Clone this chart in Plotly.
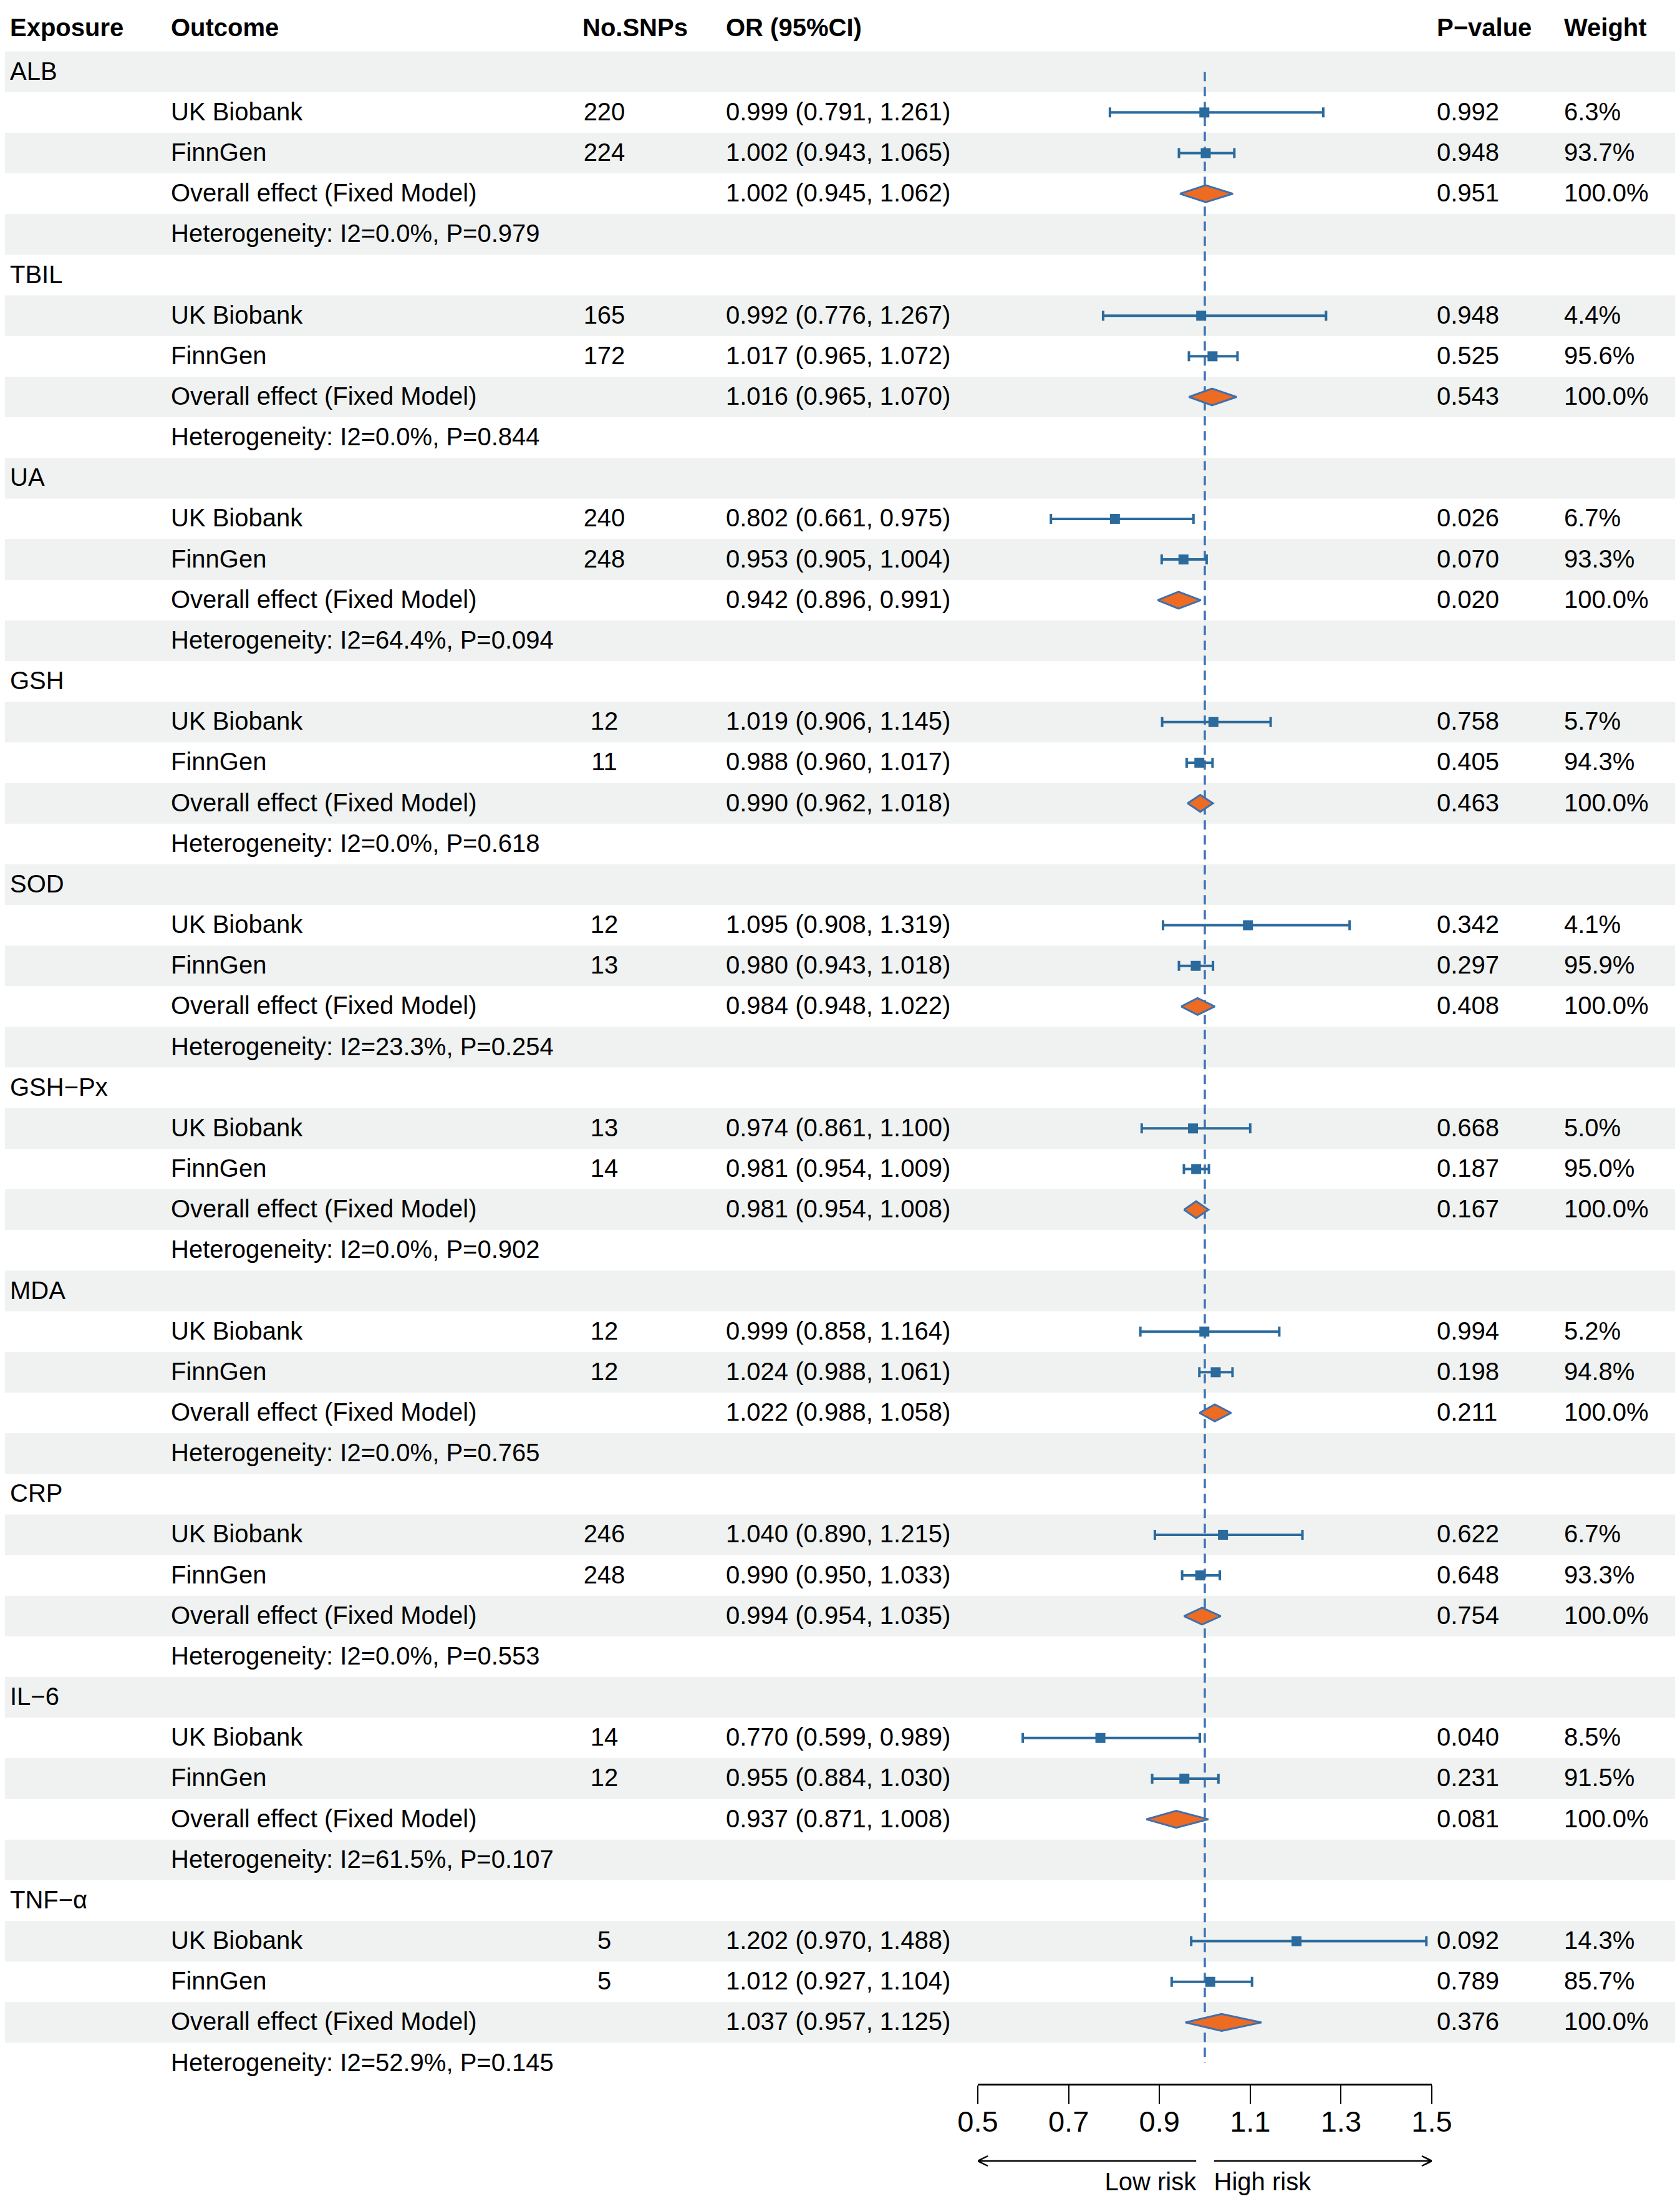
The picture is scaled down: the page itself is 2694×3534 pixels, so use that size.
import plotly.graph_objects as go

# Forest plot data
EXPOSURES = ['ALB', 'TBIL', 'UA', 'GSH', 'SOD', 'GSH−Px', 'MDA', 'CRP', 'IL−6', 'TNF−α']

# UK Biobank
UKB_SNPS = [220, 165, 240, 12, 12, 13, 12, 246, 14, 5]
UKB_OR = [0.999, 0.992, 0.802, 1.019, 1.095, 0.974, 0.999, 1.040, 0.770, 1.202]
UKB_LO = [0.791, 0.776, 0.661, 0.906, 0.908, 0.861, 0.858, 0.890, 0.599, 0.970]
UKB_HI = [1.261, 1.267, 0.975, 1.145, 1.319, 1.100, 1.164, 1.215, 0.989, 1.488]
UKB_P = [0.992, 0.948, 0.026, 0.758, 0.342, 0.668, 0.994, 0.622, 0.040, 0.092]
UKB_W = [6.3, 4.4, 6.7, 5.7, 4.1, 5.0, 5.2, 6.7, 8.5, 14.3]

# FinnGen
FIN_SNPS = [224, 172, 248, 11, 13, 14, 12, 248, 12, 5]
FIN_OR = [1.002, 1.017, 0.953, 0.988, 0.980, 0.981, 1.024, 0.990, 0.955, 1.012]
FIN_LO = [0.943, 0.965, 0.905, 0.960, 0.943, 0.954, 0.988, 0.950, 0.884, 0.927]
FIN_HI = [1.065, 1.072, 1.004, 1.017, 1.018, 1.009, 1.061, 1.033, 1.030, 1.104]
FIN_P = [0.948, 0.525, 0.070, 0.405, 0.297, 0.187, 0.198, 0.648, 0.231, 0.789]
FIN_W = [93.7, 95.6, 93.3, 94.3, 95.9, 95.0, 94.8, 93.3, 91.5, 85.7]

# Overall effect (fixed model)
OV_OR = [1.002, 1.016, 0.942, 0.990, 0.984, 0.981, 1.022, 0.994, 0.937, 1.037]
OV_LO = [0.945, 0.965, 0.896, 0.962, 0.948, 0.954, 0.988, 0.954, 0.871, 0.957]
OV_HI = [1.062, 1.070, 0.991, 1.018, 1.022, 1.008, 1.058, 1.035, 1.008, 1.125]
OV_P = [0.951, 0.543, 0.020, 0.463, 0.408, 0.167, 0.211, 0.754, 0.081, 0.376]

# Heterogeneity
HET_I2 = [0.0, 0.0, 64.4, 0.0, 23.3, 0.0, 0.0, 0.0, 61.5, 52.9]
HET_P = [0.979, 0.844, 0.094, 0.618, 0.254, 0.902, 0.765, 0.553, 0.107, 0.145]

AXIS_TICKS = [0.5, 0.7, 0.9, 1.1, 1.3, 1.5]

# Layout constants; positions below are page pixels, the page body has an 8px margin
PAGE_OFF = 8
W, H = 2694 - 2 * PAGE_OFF, 3534 - 2 * PAGE_OFF
ROW0_Y, ROW_H = 115.2, 65.16
TEXT_DY = 2.5 / ROW_H  # text sits a touch below the band centre
FONT = 'Liberation Sans, Arial, sans-serif'
FS = 40
BLUE = '#2B6A9C'
REF_BLUE = '#3D75B5'
ORANGE = '#EE6B22'
BAND = '#EFF2F1'

N_ROWS = 5 * len(EXPOSURES)


def row_of(page_y):
    return (page_y - ROW0_Y) / ROW_H


def fx(page_x):
    return page_x - PAGE_OFF


HEADER_ROW = row_of(45)

fig = go.Figure()

# alternating shaded rows
for r in range(0, N_ROWS, 2):
    fig.add_shape(type='rect', xref='paper', yref='y', x0=fx(3) / W, x1=fx(2688) / W,
                  y0=r - 0.5, y1=r + 0.5, fillcolor=BAND, line_width=0, layer='below')

# reference line at OR = 1
fig.add_shape(type='line', xref='x', yref='y', x0=1, x1=1, y0=0, y1=N_ROWS - 1,
              line=dict(color=REF_BLUE, width=3.5, dash='15px,9px'), layer='below')

# study estimates with CIs
est_x, est_y, err_p, err_m = [], [], [], []
for i in range(len(EXPOSURES)):
    base = 5 * i
    for k, (o, lo, hi) in enumerate([(UKB_OR[i], UKB_LO[i], UKB_HI[i]),
                                     (FIN_OR[i], FIN_LO[i], FIN_HI[i])]):
        est_x.append(o)
        est_y.append(base + 1 + k)
        err_p.append(hi - o)
        err_m.append(o - lo)

fig.add_trace(go.Scatter(
    x=est_x, y=est_y, mode='markers',
    marker=dict(symbol='square', size=16, color=BLUE),
    error_x=dict(type='data', symmetric=False, array=err_p, arrayminus=err_m,
                 color=BLUE, thickness=4, width=8),
    hoverinfo='skip', showlegend=False))

# pooled diamonds
DH = 13.5 / ROW_H
for i in range(len(EXPOSURES)):
    r = 5 * i + 3
    fig.add_trace(go.Scatter(
        x=[OV_LO[i], OV_OR[i], OV_HI[i], OV_OR[i], OV_LO[i]],
        y=[r, r - DH, r, r + DH, r],
        mode='lines', fill='toself', fillcolor=ORANGE,
        line=dict(color='#3E70AE', width=3),
        hoverinfo='skip', showlegend=False))

# risk arrows under the axis
AR_Y = row_of(3465)
HX, HY = 0.022, 8 / ROW_H
fig.add_trace(go.Scatter(
    x=[0.5 + HX, 0.5, 0.5 + HX, None, 0.5, 0.981, None,
       1.0206, 1.5, None, 1.5 - HX, 1.5, 1.5 - HX],
    y=[AR_Y - HY, AR_Y, AR_Y + HY, None, AR_Y, AR_Y, None,
       AR_Y, AR_Y, None, AR_Y - HY, AR_Y, AR_Y + HY],
    mode='lines', line=dict(color='black', width=2.5),
    hoverinfo='skip', showlegend=False))
LBL_Y = row_of(3502)
fig.add_trace(go.Scatter(
    x=[0.981, 1.020], y=[LBL_Y, LBL_Y], mode='text',
    text=['Low risk', 'High risk'], textposition=['middle left', 'middle right'],
    textfont=dict(family=FONT, size=FS, color='black'),
    hoverinfo='skip', showlegend=False, cliponaxis=False))


# table columns (x2 axis in figure pixel units)
def add_column(page_x, rows, texts, pos='middle right', bold=False):
    fig.add_trace(go.Scatter(
        x=[fx(page_x)] * len(rows), y=[r + TEXT_DY for r in rows], mode='text',
        text=[f'<b>{t}</b>' if bold else t for t in texts],
        textposition=pos, xaxis='x2', yaxis='y',
        textfont=dict(family=FONT, size=FS, color='black'),
        hoverinfo='skip', showlegend=False, cliponaxis=False))


def ci_text(o, lo, hi):
    return f'{o:.3f} ({lo:.3f}, {hi:.3f})'


exp_rows, out_rows, out_txt = [], [], []
snp_rows, snp_txt = [], []
or_rows, or_txt, p_txt, w_txt = [], [], [], []
for i, name in enumerate(EXPOSURES):
    base = 5 * i
    exp_rows.append(base)
    out_rows += [base + 1, base + 2, base + 3, base + 4]
    out_txt += ['UK Biobank', 'FinnGen', 'Overall effect (Fixed Model)',
                f'Heterogeneity: I2={HET_I2[i]:.1f}%, P={HET_P[i]:.3f}']
    snp_rows += [base + 1, base + 2]
    snp_txt += [str(UKB_SNPS[i]), str(FIN_SNPS[i])]
    or_rows += [base + 1, base + 2, base + 3]
    or_txt += [ci_text(UKB_OR[i], UKB_LO[i], UKB_HI[i]),
               ci_text(FIN_OR[i], FIN_LO[i], FIN_HI[i]),
               ci_text(OV_OR[i], OV_LO[i], OV_HI[i])]
    p_txt += [f'{UKB_P[i]:.3f}', f'{FIN_P[i]:.3f}', f'{OV_P[i]:.3f}']
    w_txt += [f'{UKB_W[i]:.1f}%', f'{FIN_W[i]:.1f}%', '100.0%']

COL_X = dict(exposure=16, outcome=274, snps=969, orci=1164, p=2304, w=2508)
add_column(COL_X['exposure'], exp_rows, EXPOSURES)
add_column(COL_X['outcome'], out_rows, out_txt)
add_column(COL_X['snps'], snp_rows, snp_txt, 'middle center')
add_column(COL_X['orci'], or_rows, or_txt)
add_column(COL_X['p'], or_rows, p_txt)
add_column(COL_X['w'], or_rows, w_txt)

# header
HEADERS = ['Exposure', 'Outcome', 'No.SNPs', 'OR (95%CI)', 'P−value', 'Weight']
HEADER_X = [COL_X['exposure'], COL_X['outcome'], 934, COL_X['orci'], COL_X['p'], COL_X['w']]
for hx, h in zip(HEADER_X, HEADERS):
    add_column(hx, [HEADER_ROW], [h], bold=True)

fig.update_layout(
    width=W, height=H,
    margin=dict(l=0, r=0, t=0, b=0, pad=0, autoexpand=False),
    paper_bgcolor='white', plot_bgcolor='rgba(0,0,0,0)',
    font=dict(family=FONT, size=FS, color='black'),
    showlegend=False,
    xaxis=dict(domain=[fx(1568) / W, fx(2296) / W], range=[0.5, 1.5],
               tickvals=AXIS_TICKS, ticktext=[f'{t:.1f}' for t in AXIS_TICKS],
               tickfont=dict(family=FONT, size=47, color='black'),
               showline=True, linecolor='black', linewidth=2.5,
               ticks='outside', ticklen=30, tickwidth=2, tickcolor='black',
               ticklabelstandoff=-12, automargin=False,
               showgrid=False, zeroline=False, anchor='free',
               position=1 - (3342 - PAGE_OFF) / H, fixedrange=True),
    xaxis2=dict(domain=[0, 1], range=[0, W], visible=False, anchor='y',
                fixedrange=True, automargin=False),
    yaxis=dict(domain=[0, 1], range=[row_of(PAGE_OFF + H), row_of(PAGE_OFF)],
               visible=False, fixedrange=True, automargin=False),
)

fig.write_html('out.html')
